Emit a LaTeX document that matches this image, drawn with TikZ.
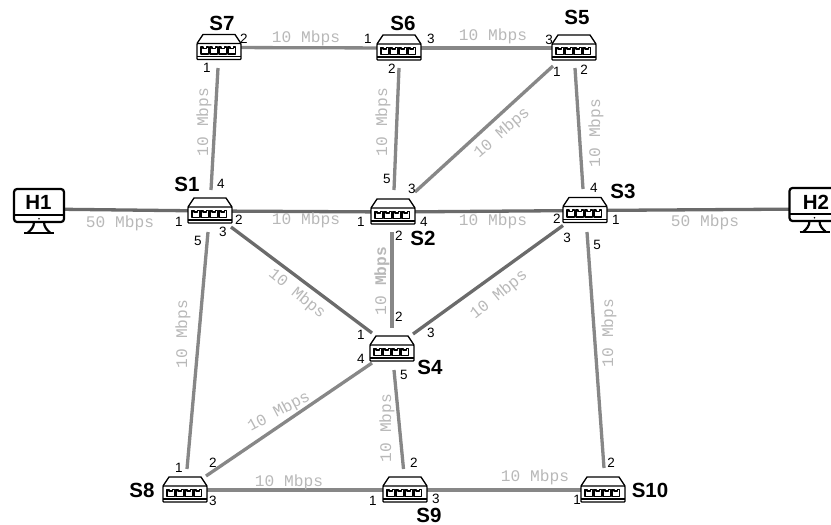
\documentclass[tikz,border=0pt]{standalone}
\usepackage{fontspec}
\setmainfont{Liberation Sans}
\newfontfamily\lblmono{Liberation Mono}
\definecolor{lblgray}{gray}{0.72}
\definecolor{edgeA}{gray}{0.53}
\definecolor{edgeB}{gray}{0.42}
\tikzset{
  x=1pt,y=-1pt,
  swbox/.style={minimum width=44pt,minimum height=26pt,inner sep=0pt,outer sep=0pt},
  hostbox/.style={minimum width=51pt,minimum height=45pt,inner sep=0pt,outer sep=0pt},
  linkA/.style={edgeA,line width=3.3pt},
  linkB/.style={edgeB,line width=3.3pt},
  rate/.style={font=\lblmono\fontsize{16.2pt}{17pt}\selectfont,text=lblgray,inner sep=0pt},
  port/.style={font=\fontsize{13.5pt}{14pt}\selectfont,text=black,inner sep=0pt},
  devname/.style={font=\bfseries\fontsize{20.5pt}{21pt}\selectfont,text=black,inner sep=0pt},
}
\newcommand{\swdraw}[1]{%
  \begin{scope}[shift={(#1.center)},line width=1.3pt,line join=round]
    \fill[white] (-16,-13) -- (16,-13) -- (22,-4) -- (22,12) -- (-22,12) -- (-22,-4) -- cycle;
    \draw (-22,-4) -- (-16,-13) -- (16,-13) -- (22,-4);
    \draw[rounded corners=0.8pt] (-22,-4) rectangle (22,12);
    \draw (-22,9) -- (22,9);
    \foreach \k in {-18,-9,0,9}{
      \draw[line width=1.1pt] (\k,-0.5) -- (\k+2,-0.5) -- (\k+2,1) -- (\k+5.5,1) -- (\k+5.5,-0.5) -- (\k+7.5,-0.5) -- (\k+7.5,6.5) -- (\k,6.5) -- cycle;
    }
  \end{scope}
}
\newcommand{\hostdraw}[1]{%
  \begin{scope}[shift={(#1.center)},line width=2.2pt,line join=round]
    \draw[fill=white,rounded corners=3pt] (-25,-21) rectangle (25,12);
    \draw (-25,5) -- (25,5);
    \fill (0,8.7) circle (0.9pt);
    \draw (-5,12) .. controls (-5,17) and (-8,20) .. (-11,22.5);
    \draw (5,12) .. controls (5,17) and (8,20) .. (11,22.5);
    \draw (-15,23) -- (15,23);
  \end{scope}
}
\begin{document}
\begin{tikzpicture}
\useasboundingbox (0,0) rectangle (831,525);
% device anchors
\node[swbox] (S7) at (219,47.5) {};
\node[swbox] (S6) at (399,48) {};
\node[swbox] (S5) at (574,48) {};
\node[swbox] (S1) at (210,211) {};
\node[swbox] (S2) at (393,212) {};
\node[swbox] (S3) at (585,210.5) {};
\node[swbox] (S4) at (392,349) {};
\node[swbox] (S8) at (185,490) {};
\node[swbox] (S9) at (405,490) {};
\node[swbox] (S10) at (603,490) {};
\node[hostbox] (H1) at (39,210) {};
\node[hostbox] (H2) at (814.5,209) {};
% links
\draw[linkB] ([yshift=1pt]H1.center) -- ([yshift=0pt]S1.center);
\draw[linkB] (S3.center) -- (H2.center);
\draw[linkB] (S1.center) -- (S2.center);
\draw[linkB] (S2.center) -- (S3.center);
\draw[linkA] (S7.center) -- (S6.center);
\draw[linkA] (S6.center) -- (S5.center);
\draw[linkA] (S8.center) -- (S9.center);
\draw[linkA] (S9.center) -- (S10.center);
\draw[linkA] ([shift={(-1,20.5)}]S7.center) -- ([shift={(1,-21)}]S1.center);
\draw[linkA] ([shift={(0,20)}]S6.center) -- ([shift={(1,-22)}]S2.center);
\draw[linkA] ([shift={(-21,18)}]S5.center) -- ([shift={(22,-20)}]S2.center);
\draw[linkA] ([shift={(1,20)}]S5.center) -- ([shift={(-2,-21.5)}]S3.center);
\draw[linkB] ([shift={(21,16)}]S1.center) -- ([shift={(-20,-16)}]S4.center);
\draw[linkA] ([shift={(-1,20)}]S2.center) -- ([shift={(0,-21)}]S4.center);
\draw[linkB] ([shift={(-22,15)}]S3.center) -- ([shift={(21,-15)}]S4.center);
\draw[linkA] ([shift={(-2,21)}]S1.center) -- ([shift={(2,-21)}]S8.center);
\draw[linkA] ([shift={(2,21.5)}]S3.center) -- ([shift={(1,-22)}]S10.center);
\draw[linkA] ([shift={(-20,14)}]S4.center) -- ([shift={(21,-14)}]S8.center);
\draw[linkA] ([shift={(2,21)}]S4.center) -- ([shift={(-1.5,-21)}]S9.center);
% devices
\foreach \d in {S1,S2,S3,S4,S5,S6,S7,S8,S9,S10}{\swdraw{\d}}
\hostdraw{H1}
\hostdraw{H2}
% names
\node[devname] (nH1) at (38.5,202) {H1};
\node[devname] (nH2) at (816,202) {H2};
\node[devname] (n7) at (222,23) {S7};
\node[devname] (n6) at (403,23) {S6};
\node[devname] (n5) at (577,17) {S5};
\node[devname] (n1) at (187,184) {S1};
\node[devname] (n2) at (423,238) {S2};
\node[devname] (n3) at (623,191) {S3};
\node[devname] (n4) at (430,367) {S4};
\node[devname] (n8) at (142,490) {S8};
\node[devname] (n9) at (429,515) {S9};
\node[devname] (n10) at (650,490) {S10};
% rates
\node[rate] (r1) at (120,223) {50 Mbps};
\node[rate] (r2) at (705,222) {50 Mbps};
\node[rate] (r3) at (306,38) {10 Mbps};
\node[rate] (r4) at (493,36) {10 Mbps};
\node[rate] (r5) at (306,220) {10 Mbps};
\node[rate] (r6) at (493,221) {10 Mbps};
\node[rate] (r7) at (289,482) {10 Mbps};
\node[rate] (r8) at (535,477) {10 Mbps};
\node[rate,rotate=90] (r9) at (204,122) {10 Mbps};
\node[rate,rotate=90] (r10) at (383,122) {10 Mbps};
\node[rate,rotate=90] (r11) at (596,133) {10 Mbps};
\node[rate,rotate=41] (r12) at (502,133) {10 Mbps};
\node[rate,rotate=90] (r13) at (183,334) {10 Mbps};
\node[rate,rotate=90] (r14) at (382,281) {10 {\bfseries Mbps}};
\node[rate,rotate=90] (r15) at (609,333) {10 Mbps};
\node[rate,rotate=-39] (r16) at (297,294) {10 Mbps};
\node[rate,rotate=39] (r17) at (499,295) {10 Mbps};
\node[rate,rotate=28] (r18) at (279,412) {10 Mbps};
\node[rate,rotate=90] (r19) at (387,428) {10 Mbps};
% ports
\node[port] (p1) at (244,39) {2};
\node[port] (p2) at (207,68) {1};
\node[port] (p3) at (368,39) {1};
\node[port] (p4) at (431,39) {3};
\node[port] (p5) at (392,69) {2};
\node[port] (p6) at (549,40) {3};
\node[port] (p7) at (557,72) {1};
\node[port] (p8) at (584,70) {2};
\node[port] (p9) at (221,184) {4};
\node[port] (p10) at (179,222) {1};
\node[port] (p11) at (239,220) {2};
\node[port] (p12) at (223,232) {3};
\node[port] (p13) at (198,241) {5};
\node[port] (p14) at (387,179) {5};
\node[port] (p15) at (412,189) {3};
\node[port] (p16) at (361,222) {1};
\node[port] (p17) at (424,222) {4};
\node[port] (p18) at (399,236) {2};
\node[port] (p19) at (594,188) {4};
\node[port] (p20) at (557,219) {2};
\node[port] (p21) at (616,220) {1};
\node[port] (p22) at (567,238) {3};
\node[port] (p23) at (597,245) {5};
\node[port] (p24) at (361,335) {1};
\node[port] (p25) at (399,317) {2};
\node[port] (p26) at (431,333) {3};
\node[port] (p27) at (361,359) {4};
\node[port] (p28) at (404,375) {5};
\node[port] (p29) at (179,468) {1};
\node[port] (p30) at (213,463) {2};
\node[port] (p31) at (213,501) {3};
\node[port] (p32) at (373,501) {1};
\node[port] (p33) at (414,463) {2};
\node[port] (p34) at (436,499) {3};
\node[port] (p35) at (577,500) {1};
\node[port] (p36) at (611,463) {2};
\end{tikzpicture}
\end{document}
